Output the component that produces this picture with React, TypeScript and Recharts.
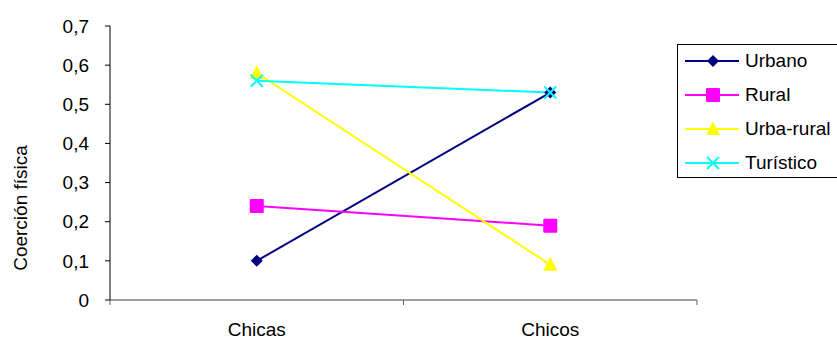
import { Label, Line, LineChart, XAxis, YAxis } from "recharts";

const CATEGORIES = ["Chicas", "Chicos"];
const URBANO = [0.1, 0.53];
const RURAL = [0.24, 0.19];
const URBA_RURAL = [0.58, 0.09];
const TURISTICO = [0.56, 0.53];
const Y_TICKS = [0, 0.1, 0.2, 0.3, 0.4, 0.5, 0.6, 0.7];
// whole numbers are category boundaries (tick marks), halves are category centres (labels)
const X_TICKS = [0, 0.5, 1, 1.5, 2];

const FONT = "Arial, 'Liberation Sans', sans-serif";
const FONT_SIZE = 19;

type Shape = "diamond" | "square" | "triangle" | "cross";

const SERIES: { key: string; color: string; shape: Shape; values: number[] }[] = [
  { key: "Urbano", color: "#000080", shape: "diamond", values: URBANO },
  { key: "Rural", color: "#FF00FF", shape: "square", values: RURAL },
  { key: "Urba-rural", color: "#FFFF00", shape: "triangle", values: URBA_RURAL },
  { key: "Turístico", color: "#00FFFF", shape: "cross", values: TURISTICO },
];

const data = CATEGORIES.map((name, i) => {
  const row: Record<string, string | number> = { name, pos: i + 0.5 };
  SERIES.forEach((s) => {
    row[s.key] = s.values[i];
  });
  return row;
});

function Marker({ cx, cy, shape, color }: { cx: number; cy: number; shape: Shape; color: string }) {
  switch (shape) {
    case "diamond":
      return (
        <polygon
          points={`${cx},${cy - 6} ${cx + 6},${cy} ${cx},${cy + 6} ${cx - 6},${cy}`}
          fill={color}
        />
      );
    case "square":
      return <rect x={cx - 7} y={cy - 7} width={14} height={14} rx={1} fill={color} />;
    case "triangle":
      return (
        <polygon
          points={`${cx},${cy - 8} ${cx + 7},${cy + 6} ${cx - 7},${cy + 6}`}
          fill={color}
        />
      );
    default:
      return (
        <g stroke={color} strokeWidth={2}>
          <line x1={cx - 6} y1={cy - 6} x2={cx + 6} y2={cy + 6} />
          <line x1={cx - 6} y1={cy + 6} x2={cx + 6} y2={cy - 6} />
        </g>
      );
  }
}

const makeDot = (shape: Shape, color: string) => (props: any) => {
  const { cx, cy, index } = props;
  if (cx == null || cy == null) return <g key={index} />;
  return <Marker key={index} cx={cx} cy={cy} shape={shape} color={color} />;
};

const formatTick = (v: number) => (v === 0 ? "0" : v.toFixed(1).replace(".", ","));

// boundary ticks get a short mark, centre ticks get the category name
function CategoryTick(props: any) {
  const { x, y, payload } = props;
  const v = payload.value as number;
  if (Number.isInteger(v)) {
    return <line x1={x} y1={y} x2={x} y2={y + 5} stroke="#606060" />;
  }
  return (
    <text x={x} y={y + 36} textAnchor="middle" fill="#000" fontSize={FONT_SIZE} fontFamily={FONT}>
      {CATEGORIES[Math.floor(v)]}
    </text>
  );
}

function ChartLegend() {
  return (
    <div
      style={{
        position: "absolute",
        left: 677,
        top: 44,
        width: 170,
        height: 134,
        border: "1px solid #000",
        boxSizing: "border-box",
        background: "#fff",
        fontFamily: FONT,
        fontSize: FONT_SIZE,
      }}
    >
      {SERIES.map((s, i) => (
        <div
          key={s.key}
          style={{ position: "absolute", left: 0, top: 2 + i * 34, height: 28, display: "flex", alignItems: "center" }}
        >
          <svg width={67} height={28}>
            <line x1={7} y1={14} x2={61} y2={14} stroke={s.color} strokeWidth={2} />
            <Marker cx={35} cy={14} shape={s.shape} color={s.color} />
          </svg>
          <span style={{ color: "#000", whiteSpace: "nowrap" }}>{s.key}</span>
        </div>
      ))}
    </div>
  );
}

export default function App() {
  return (
    <div style={{ position: "absolute", left: 0, top: 0, width: 837, height: 341, overflow: "hidden", background: "#fff" }}>
      <LineChart
        width={837}
        height={341}
        data={data}
        margin={{ top: 26, right: 140, left: 0, bottom: 11 }}
      >
        <XAxis
          type="number"
          dataKey="pos"
          domain={[0, 2]}
          ticks={X_TICKS}
          interval={0}
          height={30}
          axisLine={{ stroke: "#808080", strokeWidth: 1.5 }}
          tickLine={false}
          tickSize={0}
          tickMargin={0}
          tick={<CategoryTick />}
        />
        <YAxis
          domain={[0, 0.7]}
          ticks={Y_TICKS}
          width={110}
          tickFormatter={formatTick}
          tickSize={5}
          tickMargin={16}
          axisLine={{ stroke: "#000" }}
          tickLine={{ stroke: "#000" }}
          tick={{ fill: "#000", fontSize: FONT_SIZE, fontFamily: FONT }}
        >
          <Label
            content={(props: any) => {
              const vb = props.viewBox || {};
              const cy = (vb.y ?? 0) + (vb.height ?? 0) / 2 + 45;
              return (
                <text
                  x={0}
                  y={0}
                  transform={`translate(27, ${cy}) rotate(-90)`}
                  textAnchor="middle"
                  fill="#000"
                  fontSize={FONT_SIZE}
                  fontFamily={FONT}
                >
                  Coerción física
                </text>
              );
            }}
          />
        </YAxis>
        {SERIES.map((s) => (
          <Line
            key={s.key}
            type="linear"
            dataKey={s.key}
            stroke={s.color}
            strokeWidth={2}
            dot={makeDot(s.shape, s.color)}
            activeDot={false}
            isAnimationActive={false}
          />
        ))}
      </LineChart>
      <ChartLegend />
    </div>
  );
}
